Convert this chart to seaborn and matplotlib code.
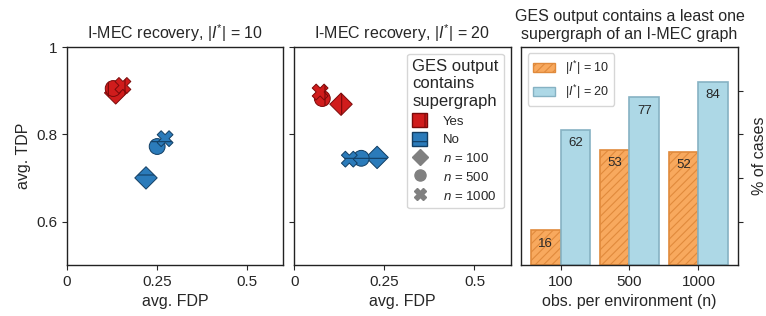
import pandas as pd
import numpy as np
import matplotlib
matplotlib.use("Agg")
import matplotlib.pyplot as plt
import seaborn as sns
from matplotlib.patches import Patch
from matplotlib.lines import Line2D

# scatter data: avg FDP / avg TDP per setting
n_vals = [100, 500, 1000]
fdp10_yes = [0.135, 0.128, 0.155]
tdp10_yes = [0.895, 0.905, 0.912]
fdp10_no = [0.219, 0.250, 0.272]
tdp10_no = [0.700, 0.772, 0.790]
fdp20_yes = [0.130, 0.078, 0.072]
tdp20_yes = [0.869, 0.882, 0.897]
fdp20_no = [0.230, 0.186, 0.153]
tdp20_no = [0.747, 0.745, 0.743]

# bar data
bar_n = ["100", "500", "1000"]
pct_10 = [16, 53, 52]
pct_20 = [62, 77, 84]

sns.set_style("ticks")
plt.rcParams['font.family'] = ['Liberation Sans', 'DejaVu Sans']
plt.rcParams['mathtext.fontset'] = 'custom'
plt.rcParams['mathtext.rm'] = 'Liberation Sans'
plt.rcParams['mathtext.it'] = 'Liberation Sans:italic'
plt.rcParams['hatch.linewidth'] = 0.8

red = "#d01c1c"
red_edge = "#7a0a0a"
blue = "#2b7bba"
blue_edge = "#123e63"
orange = "#f8a95e"
orange_edge = "#e08a3c"
lblue = "#add8e6"
lblue_edge = "#86b2c3"
markers = {100: "D", 500: "o", 1000: "X"}
fs = 11.5

fig, axes = plt.subplots(1, 3, figsize=(7.66, 3.16), dpi=100)
plt.subplots_adjust(left=0.0875, right=0.963, top=0.851, bottom=0.161, wspace=0.05)

def scatter_panel(ax, fy, ty, fn, tn):
    d_yes = pd.DataFrame({"fdp": fy, "tdp": ty, "n": n_vals})
    d_no = pd.DataFrame({"fdp": fn, "tdp": tn, "n": n_vals})
    sns.scatterplot(data=d_no, x="fdp", y="tdp", style="n", markers=markers, color=blue,
                    edgecolor=blue_edge, s=130, linewidth=0.7, hatch="-", ax=ax, legend=False)
    sns.scatterplot(data=d_yes, x="fdp", y="tdp", style="n", markers=markers, color=red,
                    edgecolor=red_edge, s=130, linewidth=0.7, hatch="|", ax=ax, legend=False)
    ax.set_xlim(0, 0.6)
    ax.set_ylim(0.5, 1.0)
    ax.set_xticks([0, 0.25, 0.5])
    ax.set_xticklabels(["0", "0.25", "0.5"])
    ax.set_yticks([0.6, 0.8, 1.0])
    ax.set_xlabel("avg. FDP", fontsize=fs)
    ax.tick_params(labelsize=11)

ax1, ax2, ax3 = axes
scatter_panel(ax1, fdp10_yes, tdp10_yes, fdp10_no, tdp10_no)
ax1.set_yticklabels(["0.6", "0.8", "1"])
ax1.set_ylabel("avg. TDP", fontsize=fs)
ax1.set_title(r"I-MEC recovery, $|I^{*}|$ = 10", fontsize=fs)

scatter_panel(ax2, fdp20_yes, tdp20_yes, fdp20_no, tdp20_no)
ax2.set_yticklabels([])
ax2.set_ylabel("")
ax2.set_title(r"I-MEC recovery, $|I^{*}|$ = 20", fontsize=fs)

handles = [
    Patch(facecolor=red, edgecolor=red_edge, hatch="|", label="Yes"),
    Patch(facecolor=blue, edgecolor=blue_edge, hatch="-", label="No"),
    Line2D([], [], marker="D", color="gray", ls="", markersize=8, label="$n$ = 100"),
    Line2D([], [], marker="o", color="gray", ls="", markersize=8, label="$n$ = 500"),
    Line2D([], [], marker="X", color="gray", ls="", markersize=8, label="$n$ = 1000"),
]
leg = ax2.legend(handles=handles, title="GES output\ncontains\nsupergraph", loc="upper right",
                 fontsize=9.5, title_fontsize=12, alignment="left", handlelength=1.1,
                 handleheight=1.2, labelspacing=0.35, borderpad=0.4, handletextpad=1.2)

# bar panel
bar_df = pd.DataFrame({
    "n": bar_n * 2,
    "pct": pct_10 + pct_20,
    "I": [r"$|I^{*}|$ = 10"] * 3 + [r"$|I^{*}|$ = 20"] * 3,
})
sns.barplot(data=bar_df, x="n", y="pct", hue="I", palette=[orange, lblue], width=0.86,
            gap=0, saturation=1, ax=ax3, legend=False)
for c, ec, h in zip(ax3.containers, [orange_edge, lblue_edge], ["////", ""]):
    for p in c:
        p.set_edgecolor(ec)
        p.set_linewidth(1.2)
        p.set_hatch(h)
    ax3.bar_label(c, padding=-14, fontsize=9.5)
ax3.set_xlim(-0.57, 2.57)
ax3.set_ylim(0, 100)
ax3.set_yticks([20, 40, 60, 80])
ax3.yaxis.tick_right()
ax3.yaxis.set_label_position("right")
ax3.set_yticklabels([])
ax3.set_ylabel("% of cases", fontsize=fs, labelpad=3)
ax3.set_xlabel("obs. per environment (n)", fontsize=fs)
ax3.tick_params(labelsize=11)
ax3.set_title("GES output contains a least one\nsupergraph of an I-MEC graph", fontsize=fs)
bar_handles = [
    Patch(facecolor=orange, edgecolor=orange_edge, hatch="////", label=r"$|I^{*}|$ = 10"),
    Patch(facecolor=lblue, edgecolor=lblue_edge, label=r"$|I^{*}|$ = 20"),
]
ax3.legend(handles=bar_handles, loc="upper left", fontsize=9, handlelength=1.8,
           labelspacing=0.5, borderpad=0.4)

for ax in axes:
    for s in ax.spines.values():
        s.set_color("#222222")
        s.set_linewidth(1.0)

plt.savefig("out.png", dpi=100)
